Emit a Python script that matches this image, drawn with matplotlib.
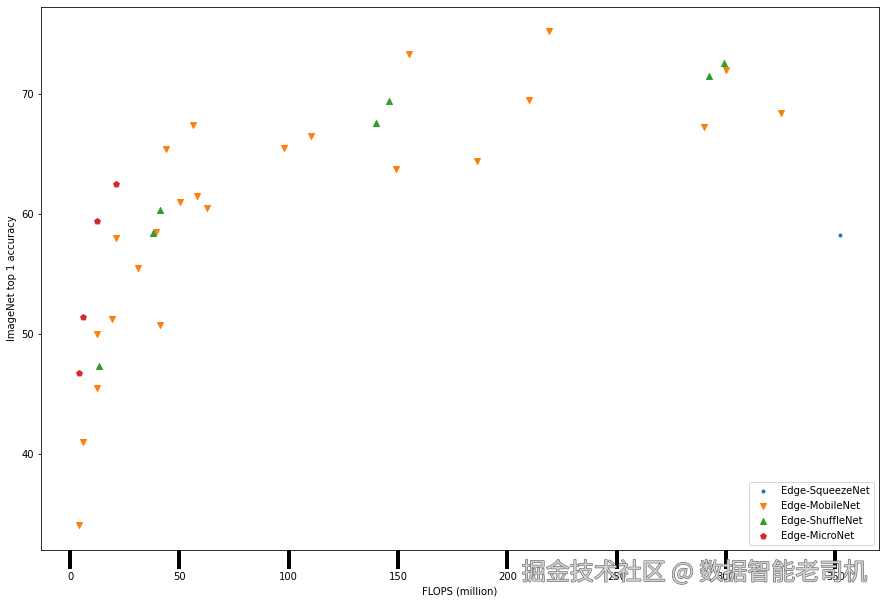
import matplotlib.pyplot as plt
import matplotlib.patheffects as pe

# Edge-SqueezeNet
squeeze_flops = [352.2]
squeeze_acc = [58.25]

# Edge-MobileNet
mobile_flops = [4.1, 6.0, 12.4, 12.4, 19.3, 21.1, 31.1, 39.2, 41.2, 43.9,
                50.4, 58.1, 56.3, 62.8, 97.9, 110.2, 149.2, 155.2, 186.3,
                210.1, 219.2, 290.1, 300.2, 325.4]
mobile_acc = [34.0, 41.0, 45.5, 50.0, 51.25, 58.0, 55.5, 58.5, 50.7, 65.4,
              61.0, 61.5, 67.4, 60.5, 65.5, 66.5, 63.75, 73.3, 64.4,
              69.5, 75.25, 67.25, 72.0, 68.4]

# Edge-ShuffleNet
shuffle_flops = [13.3, 38.1, 41.3, 140.1, 146.1, 292.3, 299.3]
shuffle_acc = [47.3, 58.4, 60.3, 67.55, 69.4, 71.5, 72.55]

# Edge-MicroNet
micro_flops = [4.2, 6.1, 12.1, 21.2]
micro_acc = [46.7, 51.4, 59.4, 62.5]

fig = plt.figure(figsize=(885 / 72, 605 / 72), dpi=72)
ax = fig.add_axes([41 / 885, 1 - 550 / 605, 838 / 885, 543 / 605])

ax.scatter(squeeze_flops, squeeze_acc, marker='.', label='Edge-SqueezeNet')
ax.scatter(mobile_flops, mobile_acc, marker='v', label='Edge-MobileNet')
ax.scatter(shuffle_flops, shuffle_acc, marker='^', label='Edge-ShuffleNet')
ax.scatter(micro_flops, micro_acc, marker='p', label='Edge-MicroNet')
ax.set_xlim(-13.3, 370)
ax.set_ylim(31.95, 77.25)

ax.set_xlabel('FLOPS (million)')
ax.set_ylabel('ImageNet top 1 accuracy')
ax.tick_params(axis='x', length=19, width=4)
ax.legend(loc='lower right')

# watermark
fig.text(0.98, 0.053, '掘金技术社区 @ 数据智能老司机', ha='right', va='center',
         fontsize=24, color='#d2d2d2', family=['Noto Sans CJK SC', 'DejaVu Sans'],
         path_effects=[pe.withStroke(linewidth=1.2, foreground='#666666')])

fig.savefig('out.png', dpi=72)
